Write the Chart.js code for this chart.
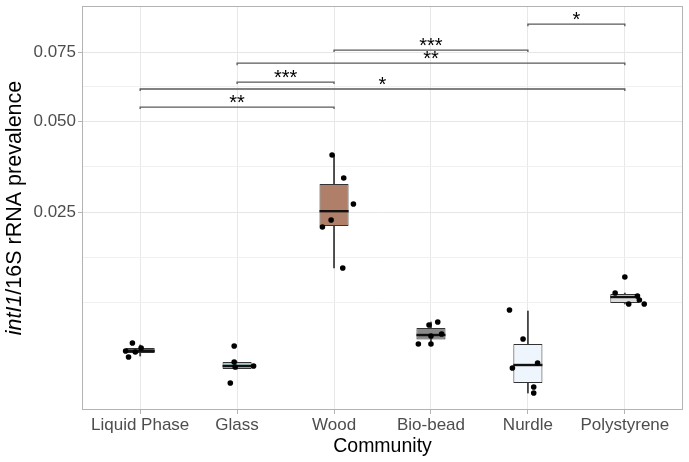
<!DOCTYPE html>
<html lang="en">
<head>
<meta charset="UTF-8">
<script src="https://cdn.jsdelivr.net/npm/chart.js"></script>
<title>intI1 prevalence by community</title>
<style>body{margin:0;background:#fff}</style>
</head>
<body>
<canvas id="myChart" width="689" height="462"></canvas>
<script>
// values (y axis is square-root scaled)
const communities = ['Liquid Phase', 'Glass', 'Wood', 'Bio-bead', 'Nurdle', 'Polystyrene'];
const boxFill = ['#4f7171', '#a9c9cc', '#b07f69', '#8a8a8a', '#eef5fc', '#dcdcdc'];

const whiskerLow  = [0.002906, 0.00198,  0.01383, 0.003918, 0.000736, 0.008378];
const q1          = [0.003145, 0.00198,  0.0219,  0.004336, 0.001181, 0.008511];
const median      = [0.00331,  0.002178, 0.0252,  0.004775, 0.002246, 0.009332];
const q3          = [0.003564, 0.002457, 0.03181, 0.0055,   0.003918, 0.009756];
const whiskerHigh = [0.003828, 0.002457, 0.03974, 0.006164, 0.007477, 0.0099];

const pointValues = [
  [0.004009, 0.00331, 0.002829, 0.003564, 0.003226],
  [0.003738, 0.002457, 0.002111, 0.002178, 0.001181],
  [0.03974, 0.03338, 0.02686, 0.0232, 0.02168, 0.01383],
  [0.005828, 0.006164, 0.004676, 0.004876, 0.003918, 0.003918],
  [0.007603, 0.004383, 0.002045, 0.002386, 0.000991, 0.000736],
  [0.01234, 0.0099, 0.009472, 0.008917, 0.008378, 0.008378]
];
const pointJitter = [
  [-0.08, -0.15, -0.12, 0.01, -0.05],
  [-0.03, -0.03, -0.02, 0.17, -0.07],
  [-0.02, 0.10, 0.20, -0.03, -0.12, 0.09],
  [-0.02, 0.07, 0, 0.11, -0.13, 0],
  [-0.19, -0.05, -0.16, 0.10, 0.06, 0.06],
  [0, -0.10, 0.13, 0.15, 0.04, 0.20]
];

const bracketFrom  = [0, 1, 0, 1, 2, 4];
const bracketTo    = [2, 2, 5, 5, 4, 5];
const bracketY     = [0.0548, 0.0636, 0.0611, 0.0707, 0.0758, 0.0865];
const bracketLabel = ['**', '***', '*', '**', '***', '*'];

const yTicks = [0.025, 0.05, 0.075];
const yLimits = [0.00022, 0.0944];

const FONT = "'Liberation Sans', Arial, sans-serif";
const tr = v => Math.sqrt(v);

// major breaks plus ggplot-style minor breaks, in sqrt space
const majorPos = yTicks.map(tr);
const step = majorPos[1] - majorPos[0];
const ext = [majorPos[0] - step, ...majorPos, majorPos[majorPos.length - 1] + step];
const gridPos = [];
for (let i = 0; i < ext.length; i++) {
  gridPos.push({ value: ext[i], minor: i === 0 || i === ext.length - 1 });
  if (i < ext.length - 1) gridPos.push({ value: (ext[i] + ext[i + 1]) / 2, minor: true });
}
const yGrid = gridPos.filter(t => t.value >= tr(yLimits[0]) && t.value <= tr(yLimits[1]));

const points = [];
pointValues.forEach((vals, i) => vals.forEach((v, j) => points.push({ x: i + pointJitter[i][j], y: tr(v) })));

const boxPlugin = {
  id: 'boxExtras',
  afterDatasetDraw(chart, args) {
    if (args.index !== 1) return;
    const { ctx, scales: { x, y } } = chart;
    const half = (x.getPixelForValue(0.15) - x.getPixelForValue(0));
    ctx.save();
    ctx.strokeStyle = '#111';
    ctx.lineWidth = 2.4;
    median.forEach((m, i) => {
      const px = x.getPixelForValue(i), py = y.getPixelForValue(tr(m));
      ctx.beginPath();
      ctx.moveTo(px - half, py);
      ctx.lineTo(px + half, py);
      ctx.stroke();
    });
    ctx.restore();
  },
  afterDraw(chart) {
    const { ctx, chartArea: a, scales: { x, y } } = chart;
    ctx.save();
    // significance brackets
    ctx.strokeStyle = '#5a5a5a';
    ctx.lineWidth = 1.3;
    ctx.fillStyle = '#000';
    ctx.font = '20px ' + FONT;
    ctx.textAlign = 'center';
    ctx.textBaseline = 'alphabetic';
    bracketY.forEach((b, k) => {
      const x0 = x.getPixelForValue(bracketFrom[k]);
      const x1 = x.getPixelForValue(bracketTo[k]);
      const py = y.getPixelForValue(tr(b));
      ctx.beginPath();
      ctx.moveTo(x0, py + 2);
      ctx.lineTo(x0, py);
      ctx.lineTo(x1, py);
      ctx.lineTo(x1, py + 2);
      ctx.stroke();
      ctx.fillText(bracketLabel[k], (x0 + x1) / 2, py + 2);
    });
    // panel border
    ctx.strokeStyle = '#b3b3b3';
    ctx.lineWidth = 1;
    ctx.strokeRect(a.left + 0.5, a.top + 0.5, a.right - a.left - 1, a.bottom - a.top - 1);
    // axis titles
    ctx.fillStyle = '#000';
    ctx.font = '19.5px ' + FONT;
    ctx.textBaseline = 'middle';
    ctx.fillText('Community', (a.left + a.right) / 2, 447);
    ctx.translate(15, (a.top + a.bottom) / 2);
    ctx.rotate(-Math.PI / 2);
    ctx.font = 'italic 21.5px ' + FONT;
    const w1 = ctx.measureText('intI1').width;
    ctx.font = '21.5px ' + FONT;
    const w2 = ctx.measureText('/16S rRNA prevalence').width;
    ctx.textAlign = 'left';
    ctx.font = 'italic 21.5px ' + FONT;
    ctx.fillText('intI1', -(w1 + w2) / 2, 0);
    ctx.font = '21.5px ' + FONT;
    ctx.fillText('/16S rRNA prevalence', -(w1 + w2) / 2 + w1, 0);
    ctx.restore();
  }
};

const chart = new Chart(document.getElementById('myChart'), {
  type: 'scatter',
  data: {
    datasets: [
      {
        type: 'scatter',
        data: points,
        backgroundColor: '#000',
        borderWidth: 0,
        pointRadius: 2.8,
        order: 0
      },
      {
        type: 'bar',
        data: communities.map((c, i) => ({ x: i, y: [tr(q1[i]), tr(q3[i])] })),
        backgroundColor: boxFill,
        borderColor: '#333',
        borderWidth: 1,
        borderSkipped: false,
        grouped: false,
        barPercentage: 0.3,
        categoryPercentage: 1,
        order: 1
      },
      {
        type: 'bar',
        data: communities.map((c, i) => ({ x: i, y: [tr(whiskerLow[i]), tr(whiskerHigh[i])] })),
        backgroundColor: '#444',
        borderWidth: 0,
        grouped: false,
        barThickness: 1.2,
        order: 2
      }
    ]
  },
  options: {
    responsive: false,
    animation: false,
    layout: { padding: { top: 6, right: 6, left: 0, bottom: 0 } },
    plugins: { legend: { display: false }, tooltip: { enabled: false } },
    scales: {
      x: {
        type: 'linear',
        min: -0.6,
        max: 5.6,
        offset: false,
        afterBuildTicks: s => { s.ticks = communities.map((c, i) => ({ value: i })); },
        afterFit: s => { s.height = 52; s.paddingLeft = 0; s.paddingRight = 0; },
        ticks: {
          autoSkip: false,
          maxRotation: 0,
          padding: 1,
          color: '#4d4d4d',
          font: { size: 17, family: FONT },
          callback: v => communities[v]
        },
        grid: { offset: false, color: '#e8e8e8', lineWidth: 1, tickLength: 4, tickColor: '#b3b3b3' },
        border: { display: false }
      },
      y: {
        min: tr(yLimits[0]),
        max: tr(yLimits[1]),
        afterBuildTicks: s => { s.ticks = yGrid.map(t => ({ value: t.value, minor: t.minor })); },
        afterFit: s => { s.width = 82; s.paddingTop = 0; s.paddingBottom = 0; },
        ticks: {
          autoSkip: false,
          padding: 2,
          color: '#4d4d4d',
          font: { size: 17, family: FONT },
          callback: (v, i, ticks) => ticks[i].minor ? '' : (v * v).toFixed(3)
        },
        grid: {
          color: c => (c.tick && c.tick.minor) ? '#f0f0f0' : '#e6e6e6',
          lineWidth: 1,
          tickLength: 4,
          tickColor: c => (c.tick && c.tick.minor) ? 'rgba(0,0,0,0)' : '#b3b3b3'
        },
        border: { display: false }
      }
    }
  },
  plugins: [boxPlugin]
});
</script>
</body>
</html>
